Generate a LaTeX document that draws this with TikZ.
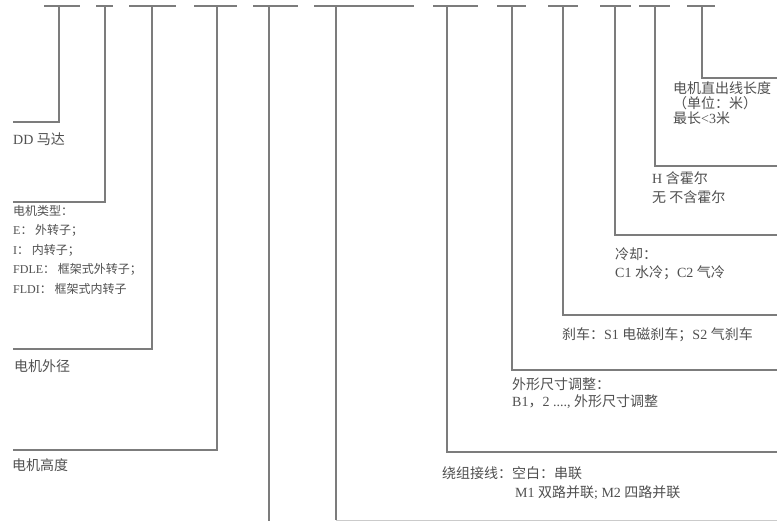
\documentclass[tikz,border=0pt]{standalone}
\usepackage{fontspec}
\setmainfont{Liberation Serif}
\newfontfamily\cjkfont{Noto Sans CJK SC}
\newcommand\zh[1]{{\cjkfont #1}}
\definecolor{ln}{HTML}{7C7C7C}
\definecolor{tx}{HTML}{505050}
\begin{document}
\begin{tikzpicture}[x=1pt,y=-1pt,
  line/.style={draw=ln, line width=1.1pt},
  lbl/.style={anchor=west, inner sep=0pt, text=tx, align=left, font=\fontsize{14}{16}\selectfont},
  small/.style={lbl, font=\fontsize{12}{19.5}\selectfont}]
\useasboundingbox[fill=white] (0,0) rectangle (777,521);

% top stubs: left end, right end, vertical position
\foreach \n/\a/\b/\v in {1/44/80/59, 2/96/113/105, 3/129/176/152, 4/194/237/217,
  5/253/298/269, 6/314/414/336, 7/433/478/447, 8/497/526/512,
  9/548/578/563, 10/600/631/615, 11/639/670/655, 12/687/715/702}{
  \coordinate (sa\n) at (\a,6);
  \coordinate (sb\n) at (\b,6);
  \coordinate (k\n) at (\v,6);
}
\foreach \n in {1,...,12}{\draw[line] (sa\n) -- (sb\n);}

% corners and ends
\coordinate (c1) at (59,122);   \coordinate (e1) at (13,122);
\coordinate (c2) at (105,202);  \coordinate (e2) at (13,202);
\coordinate (c3) at (152,349);  \coordinate (e3) at (13,349);
\coordinate (c4) at (217,450);  \coordinate (e4) at (13,450);
\coordinate (c5) at (269,521);
\coordinate (c6) at (336,520);  \coordinate (e6) at (777,520);
\coordinate (c7) at (447,452);  \coordinate (e7) at (777,452);
\coordinate (c8) at (512,370);  \coordinate (e8) at (777,370);
\coordinate (c9) at (563,315);  \coordinate (e9) at (777,315);
\coordinate (c10) at (615,235); \coordinate (e10) at (777,235);
\coordinate (c11) at (655,166); \coordinate (e11) at (777,166);
\coordinate (c12) at (702,78);  \coordinate (e12) at (777,78);

\draw[line] (k1) -- (c1) -- (e1);
\draw[line] (k2) -- (c2) -- (e2);
\draw[line] (k3) -- (c3) -- (e3);
\draw[line] (k4) -- (c4) -- (e4);
\draw[line] (k5) -- (c5);
\draw[line] (k6) -- (c6);
\draw[draw=ln!40, line width=1pt] (c6) -- (e6);
\draw[line] (k7) -- (c7) -- (e7);
\draw[line] (k8) -- (c8) -- (e8);
\draw[line] (k9) -- (c9) -- (e9);
\draw[line] (k10) -- (c10) -- (e10);
\draw[line] (k11) -- (c11) -- (e11);
\draw[line] (k12) -- (c12) -- (e12);

% labels
\node[lbl] (l1) at (13,139) {DD \zh{马达}};
\node[small, anchor=north west] (l2) at (13,205) {\zh{电机类型：}\\
E\zh{：\ 外转子；}\\
I\zh{：\ 内转子；}\\
FDLE\zh{：\ 框架式外转子；}\\
FLDI\zh{：\ 框架式内转子}};
\node[lbl] (l3) at (14,366) {\zh{电机外径}};
\node[lbl] (l4) at (12,465) {\zh{电机高度}};
\node[lbl] (l7a) at (442,473) {\zh{绕组接线：空白：串联}};
\node[lbl] (l7b) at (515,493) {M1 \zh{双路并联}; M2 \zh{四路并联}};
\node[lbl, anchor=north west, font=\fontsize{14}{17}\selectfont] (l8) at (512,378) {\zh{外形尺寸调整：}\\B1\zh{，}2 ...., \zh{外形尺寸调整}};
\node[lbl] (l9) at (562,335) {\zh{刹车：}S1 \zh{电磁刹车；}S2 \zh{气刹车}};
\node[lbl, anchor=north west, font=\fontsize{14}{18}\selectfont] (l10) at (615,248) {\zh{冷却：}\\C1 \zh{水冷；}C2 \zh{气冷}};
\node[lbl, anchor=north west, font=\fontsize{14}{19}\selectfont] (l11) at (652,171) {H \zh{含霍尔}\\\zh{无 不含霍尔}};
\node[lbl, anchor=north west, font=\fontsize{14}{15}\selectfont] (l12) at (673,81) {\zh{电机直出线长度}\\\zh{（单位：米）}\\\zh{最长}<3\zh{米}};
\end{tikzpicture}
\end{document}
